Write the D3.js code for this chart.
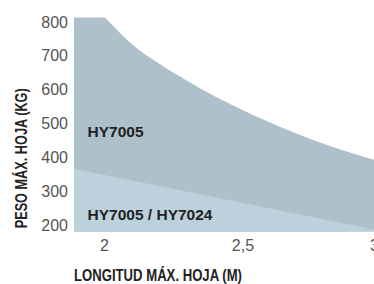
<!DOCTYPE html>
<html>
<head>
<meta charset="utf-8">
<script src="https://cdn.jsdelivr.net/npm/d3@7"></script>
<style>
  body { margin: 0; background: #fff; }
  svg { display: block; }
</style>
</head>
<body>
<svg width="374" height="284"></svg>
<script>
// longitud (m) / peso (kg)
var darkLength = [1.89, 2.0, 2.1, 2.2, 2.3, 2.4, 2.5, 2.6, 2.7, 2.8, 2.9, 3.0];
var darkKg = [910, 816, 735, 676, 626, 580, 540, 503, 469, 438, 411, 387];
var lightLength = [1.89, 3.0];
var lightKg = [366, 182];
var yTicks = [200, 300, 400, 500, 600, 700, 800];
var xTicks = [2, 2.5, 3];

var plotLeft = 74, plotRight = 374, plotTop = 17.5, plotBottom = 231.7;

var x = d3.scaleLinear().domain([1.892, 2.975]).range([plotLeft, plotRight]);
var y = d3.scaleLinear().domain([180, 813]).range([plotBottom, plotTop]);

var svg = d3.select("svg");

svg.append("clipPath").attr("id", "plot")
  .append("rect")
  .attr("x", plotLeft).attr("y", plotTop)
  .attr("width", plotRight - plotLeft).attr("height", plotBottom - plotTop);

var area = d3.area()
  .x(function(d) { return x(d[0]); })
  .y0(y(180))
  .y1(function(d) { return y(d[1]); })
  .curve(d3.curveMonotoneX);

var plot = svg.append("g").attr("clip-path", "url(#plot)");

plot.append("path")
  .datum(d3.zip(darkLength, darkKg))
  .attr("fill", "#aec0c9")
  .attr("d", area);

plot.append("path")
  .datum(d3.zip(lightLength, lightKg))
  .attr("fill", "#bdd1dc")
  .attr("d", area);

var yAxis = svg.append("g")
  .attr("transform", "translate(" + plotLeft + ",0)")
  .call(d3.axisLeft(y).tickValues(yTicks).tickSize(0).tickPadding(6));
yAxis.select(".domain").remove();

var xAxis = svg.append("g")
  .attr("transform", "translate(0," + plotBottom + ")")
  .call(d3.axisBottom(x).tickValues(xTicks).tickSize(0).tickPadding(7.5)
    .tickFormat(function(d) { return String(d).replace(".", ","); }));
xAxis.select(".domain").remove();
xAxis.selectAll(".tick text")
  .attr("dx", function(d) { return d === 3 ? -7 : 0; });

svg.selectAll(".tick text")
  .attr("font-family", "Liberation Sans, Arial, sans-serif")
  .attr("font-size", "16px")
  .attr("fill", "#555");

svg.append("text")
  .attr("x", 87.5).attr("y", 137.3)
  .attr("font-family", "Liberation Sans, Arial, sans-serif")
  .attr("font-weight", "bold")
  .attr("font-size", "15.5px")
  .attr("fill", "#222")
  .text("HY7005");

svg.append("text")
  .attr("x", 87.5).attr("y", 220)
  .attr("font-family", "Liberation Sans, Arial, sans-serif")
  .attr("font-weight", "bold")
  .attr("font-size", "15.5px")
  .attr("fill", "#222")
  .text("HY7005 / HY7024");

svg.append("text")
  .attr("transform", "translate(26.7,228.3) rotate(-90)")
  .attr("font-family", "Liberation Sans Narrow, Arial Narrow, sans-serif")
  .attr("font-weight", "bold")
  .attr("font-size", "16px")
  .attr("fill", "#222")
  .attr("textLength", 140)
  .attr("lengthAdjust", "spacingAndGlyphs")
  .text("PESO MÁX. HOJA (KG)");

svg.append("text")
  .attr("x", 74).attr("y", 280.5)
  .attr("font-family", "Liberation Sans Narrow, Arial Narrow, sans-serif")
  .attr("font-weight", "bold")
  .attr("font-size", "16px")
  .attr("fill", "#222")
  .attr("textLength", 168)
  .attr("lengthAdjust", "spacingAndGlyphs")
  .text("LONGITUD MÁX. HOJA (M)");
</script>
</body>
</html>
